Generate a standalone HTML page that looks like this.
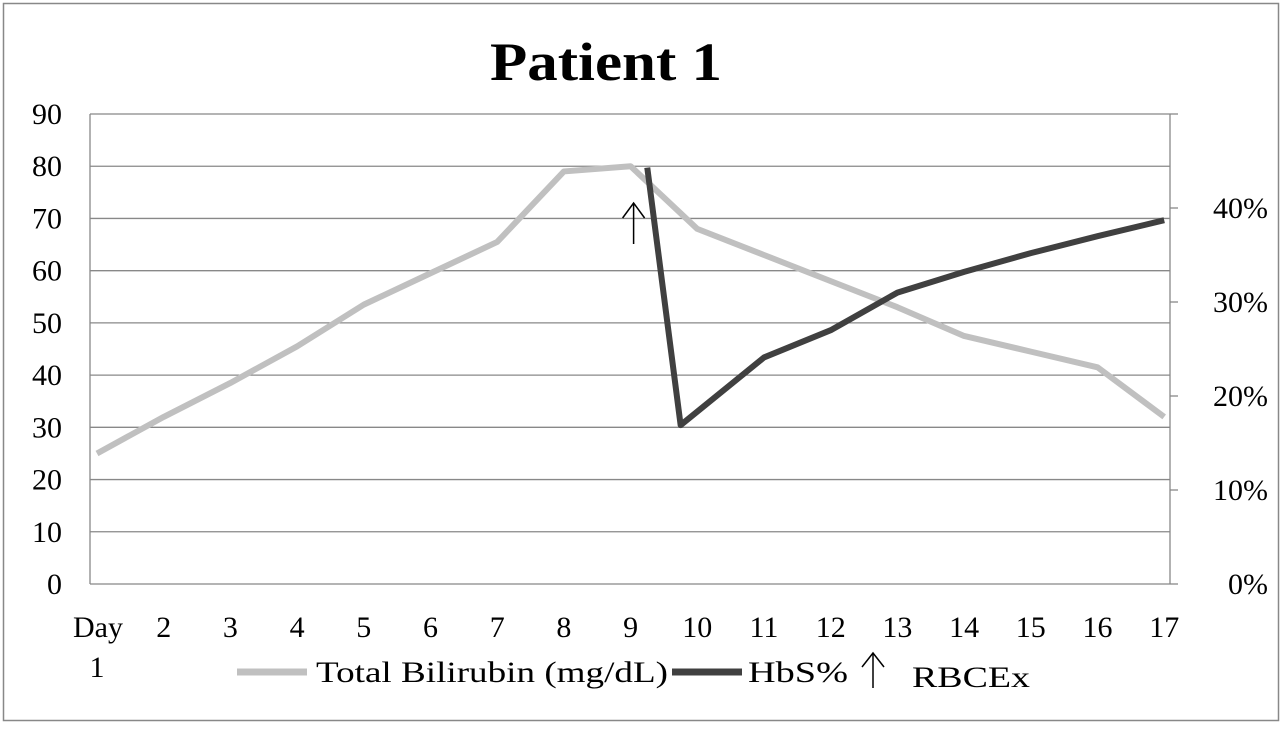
<!DOCTYPE html>
<html><head><meta charset="utf-8"><style>
body{margin:0;background:#fff;}
svg text{font-family:"Liberation Serif",serif;fill:#000;}
</style></head><body>
<svg width="1282" height="724" xmlns="http://www.w3.org/2000/svg">
<rect x="3.5" y="3.5" width="1275" height="717" fill="#fff" stroke="#888" stroke-width="1.5"/>
<text x="490" y="80" font-size="54" font-weight="bold" textLength="232" lengthAdjust="spacingAndGlyphs">Patient 1</text>
<g id="grid"></g>
<g id="axes"></g>
<g id="series"></g>
<g id="legend">
<line x1="237" y1="672" x2="307" y2="672" stroke="#c0c0c0" stroke-width="7"/>
<text x="316" y="682" font-size="30" textLength="352" lengthAdjust="spacingAndGlyphs">Total Bilirubin (mg/dL)</text>
<line x1="672" y1="672" x2="742" y2="672" stroke="#404040" stroke-width="7"/>
<text x="748" y="682" font-size="30" textLength="100" lengthAdjust="spacingAndGlyphs">HbS%</text>
<g stroke="#000" stroke-width="1.5" fill="none">
<line x1="873" y1="653" x2="873" y2="688"/><polyline points="862,667 873,653 884,667"/></g>
<text x="912" y="687" font-size="30" textLength="118" lengthAdjust="spacingAndGlyphs">RBCEx</text>
</g>
</svg>
<script>
const days=[1,2,3,4,5,6,7,8,9,10,11,12,13,14,15,16,17];
const xLabels=["Day","2","3","4","5","6","7","8","9","10","11","12","13","14","15","16","17"];
const bilirubin=[25,32,38.5,45.5,53.5,59.5,65.5,79,80,68,63,58,53,47.5,44.5,41.5,32];
const hbsDays=[9.25,9.75,11,12,13,14,15,16,17];
const hbsValues=[44.3,16.9,24.1,27,31,33.2,35.2,37,38.7];
const leftTicks=[0,10,20,30,40,50,60,70,80,90];
const rightTicks=[0,10,20,30,40];
const rbcexDay=9;
const NS="http://www.w3.org/2000/svg";
const L=90,R=1170,T=114,B=584;
const x=d=>97+(d-1)*66.7;
const yL=v=>B-(v/90)*(B-T);
const yR=v=>B-(v/50)*(B-T);
function mk(tag,attrs,parent){const e=document.createElementNS(NS,tag);for(const k in attrs)e.setAttribute(k,attrs[k]);parent.appendChild(e);return e;}
const grid=document.getElementById('grid'),axes=document.getElementById('axes'),series=document.getElementById('series');
leftTicks.forEach(v=>{
 const l=mk('line',{x1:L,x2:R,y1:yL(v),y2:yL(v),stroke:'#888','stroke-width':1.3},grid);
 
 
 const t=mk('text',{x:62,y:yL(v)+10,'font-size':30,'text-anchor':'end'},axes);
 t.textContent=v;
 
 
});
mk('line',{x1:L,x2:L,y1:T,y2:B,stroke:'#888','stroke-width':1.3},axes);
mk('line',{x1:R,x2:R,y1:T,y2:B,stroke:'#888','stroke-width':1.3},axes);
[0,10,20,30,40,50].forEach(v=>{mk('line',{x1:R,x2:R+8,y1:yR(v),y2:yR(v),stroke:'#888','stroke-width':1.3},axes);});
rightTicks.forEach(v=>{
 const t=mk('text',{x:1268,y:yR(v)+10,'font-size':30,'text-anchor':'end'},axes);
 t.textContent=v+'%';
 
 
});
days.forEach((d,i)=>{
 const t=mk('text',{x:i==0?98:x(d),y:637,'font-size':30,'text-anchor':'middle'},axes);
 t.textContent=xLabels[i];
 
 
});
const t1=mk('text',{x:97,y:677,'font-size':30,'text-anchor':'middle'},axes);t1.textContent='1';


const p1=mk('polyline',{points:days.map((d,i)=>x(d)+','+yL(bilirubin[i])).join(' '),fill:'none',stroke:'#c0c0c0','stroke-width':6,'stroke-linejoin':'round'},series);


const p2=mk('polyline',{points:hbsDays.map((d,i)=>x(d)+','+yR(hbsValues[i])).join(' '),fill:'none',stroke:'#404040','stroke-width':6,'stroke-linejoin':'round'},series);


const ax=x(rbcexDay)+3;
const ag=mk('g',{stroke:'#000','stroke-width':1.5,fill:'none'},series);


mk('line',{x1:ax,x2:ax,y1:203,y2:244},ag);
mk('polyline',{points:(ax-11)+',218 '+ax+',203 '+(ax+11)+',218'},ag);
</script>
</body></html>
